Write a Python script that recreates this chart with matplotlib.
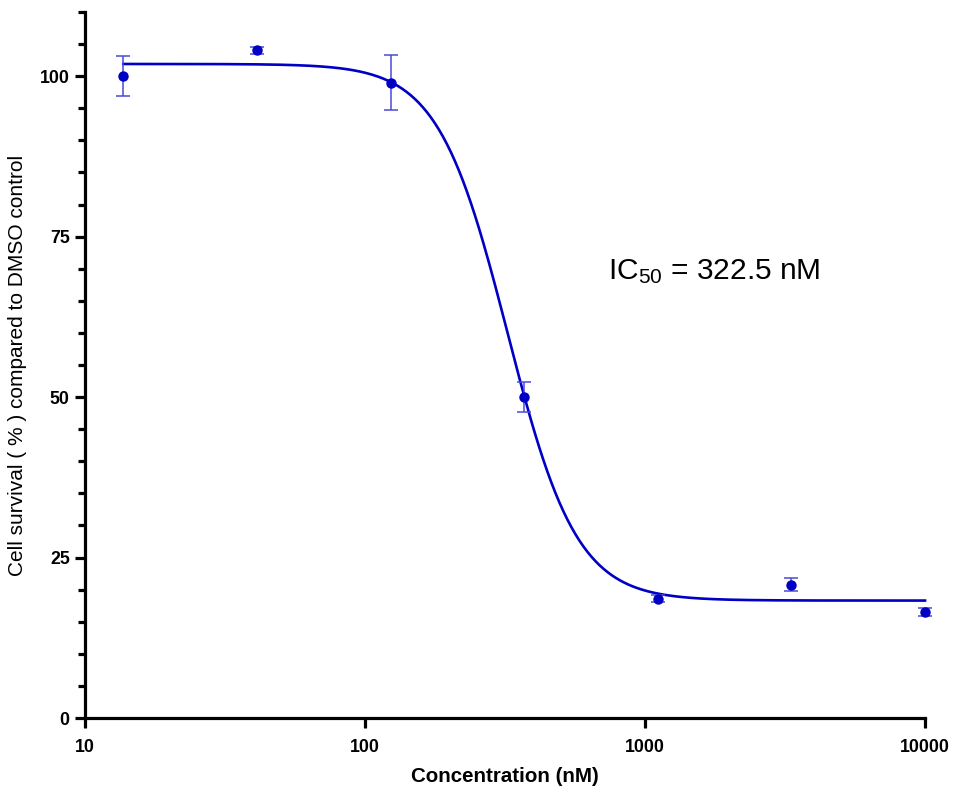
# dose-response curve with 4PL fit
import numpy as np
import matplotlib.pyplot as plt
from matplotlib.ticker import FixedLocator, MultipleLocator, FixedFormatter

plt.rcParams['font.family'] = ['Liberation Sans', 'DejaVu Sans']
plt.rcParams['mathtext.fontset'] = 'custom'
plt.rcParams['mathtext.rm'] = 'Liberation Sans'
plt.rcParams['mathtext.it'] = 'Liberation Sans:italic'
plt.rcParams['mathtext.bf'] = 'Liberation Sans:bold'

conc = [13.7, 41.2, 123.5, 370.4, 1111, 3333, 10000]
survival = [100.0, 104.0, 99.0, 50.0, 18.6, 20.8, 16.5]
sem = [3.1, 0.5, 4.3, 2.4, 0.6, 1.0, 0.6]

# fitted parameters
top = 101.9
bottom = 18.3
ic50 = 322.5
hill = 3.5

xfit = np.logspace(np.log10(conc[0]), np.log10(conc[-1]), 400)
yfit = bottom + (top - bottom) / (1 + (xfit / ic50) ** hill)

blue = '#0000c4'

fig = plt.figure(figsize=(9.56, 7.88), dpi=100)
ax = fig.add_axes([0.0889, 0.0888, 0.8787, 0.896])

ax.plot(xfit, yfit, color=blue, lw=1.9, zorder=2, clip_on=False)
ax.errorbar(conc, survival, yerr=sem, fmt='none', ecolor='#4a4ad8',
            elinewidth=1.1, capsize=5, capthick=1.1, zorder=3, clip_on=False)
ax.plot(conc, survival, 'o', color=blue, ms=6.5, zorder=4, clip_on=False)

ax.set_xscale('log')
ax.set_xlim(10, 10000)
ax.set_ylim(0, 110)

ax.xaxis.set_major_locator(FixedLocator([10, 100, 1000, 10000]))
ax.xaxis.set_major_formatter(FixedFormatter(['10', '100', '1000', '10000']))
ax.xaxis.set_minor_locator(FixedLocator([]))
ax.yaxis.set_major_locator(FixedLocator([0, 25, 50, 75, 100]))
ax.yaxis.set_minor_locator(MultipleLocator(5))

for s in ['top', 'right']:
    ax.spines[s].set_visible(False)
for s in ['left', 'bottom']:
    ax.spines[s].set_linewidth(2.3)

ax.tick_params(which='major', length=7, width=2.3, labelsize=12.8, pad=4)
ax.tick_params(which='minor', length=5, width=2.3)
ax.tick_params(axis='x', which='major', pad=8)
for lab in ax.get_xticklabels() + ax.get_yticklabels():
    lab.set_fontweight('bold')

ax.set_xlabel('Concentration (nM)', fontsize=14.8, fontweight='bold', labelpad=8)
ax.set_ylabel('Cell survival ( % ) compared to DMSO control', fontsize=15)
ax.yaxis.set_label_coords(-0.069, 0.5)

ax.text(1763, 69.6, r'IC$_{50}$ = 322.5 nM', fontsize=21.5, ha='center', va='center')

fig.savefig('out.png', dpi=100)
